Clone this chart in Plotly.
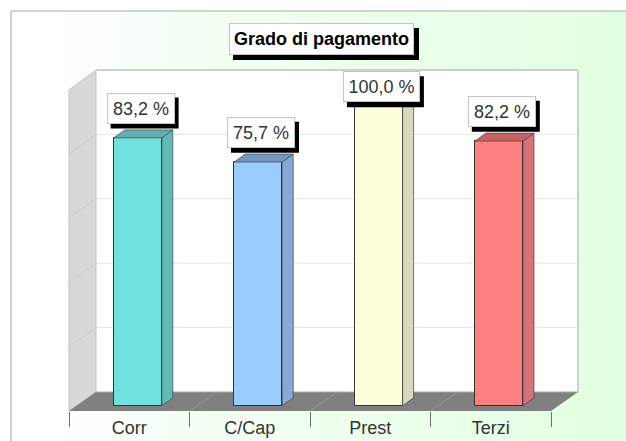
import plotly.graph_objects as go

title = "Grado di pagamento"
categories = ["Corr", "C/Cap", "Prest", "Terzi"]
values = [83.2, 75.7, 100.0, 82.2]
value_labels = ["83,2 %", "75,7 %", "100,0 %", "82,2 %"]
front_colors = ["#70E2DE", "#99CCFF", "#FFFFDC", "#FF8080"]
side_colors = ["#5FBAB8", "#85AAD8", "#D8D8BC", "#D87078"]
top_colors = ["#5FB0AE", "#7098C0", "#C8C8B0", "#C86064"]
grid_values = [20, 40, 60, 80]

W, H = 626, 441
X0_PX, X_STEP = 137.8, 120.4      # pixel of first bar centre, pixels per category
Y0_PX, Y_UNIT = 405.8, 3.22       # pixel of value 0 on bars, pixels per value unit
BAR_W = 48 / X_STEP
DX, DY = 11 / X_STEP, 8 / Y_UNIT  # bar depth in data units
FL, FR, FB, FT = 69, 551, 411, 392  # floor left/right/front/back
WL, WR, WT = 96, 578, 70            # back wall


def px(x):
    return x / W


def py(y):
    return 1 - y / H


def poly(points, **kw):
    path = "M" + " L".join(f"{px(a):.5f},{py(b):.5f}" for a, b in points) + " Z"
    return dict(type="path", xref="paper", yref="paper", path=path, **kw)


def line(x0, y0, x1, y1, color, width=1, layer="below"):
    return dict(type="line", xref="paper", yref="paper", x0=px(x0), y0=py(y0), x1=px(x1), y1=py(y1),
                line=dict(color=color, width=width), layer=layer)


def rect(x0, y0, x1, y1, color, layer="below"):
    return dict(type="rect", xref="paper", yref="paper", x0=px(x0), y0=py(y0), x1=px(x1), y1=py(y1),
                fillcolor=color, line=dict(width=0), layer=layer)


shapes = []
# background gradient, white to pale green
BANDS = 28
start = 62
for i in range(BANDS):
    t = (i + 0.5) / BANDS
    ch = round(252 - (252 - 224) * t)
    x0 = start + (W - start) * i / BANDS
    x1 = start + (W - start) * (i + 1) / BANDS
    shapes.append(rect(x0, 11, x1 + 1, H, f"rgb({ch},255,{ch})"))
shapes.append(line(11, 11, W, 11, "#C4C4C4", 1.5))
shapes.append(line(11, 11, 11, H, "#C4C4C4", 1.5))

# back wall, left wall, floor
shapes.append(rect(WL, WT, WR, FT, "#FFFFFF"))
back_h = FT - WT
for g in grid_values:
    y = FT - g / 100 * back_h
    shapes.append(line(WL, y, WR, y, "#E4E4E4"))
shapes.append(line(WL, WT, WR, WT, "#C0C0C0", 1.5))
shapes.append(line(WR, WT, WR, FT, "#C0C0C0", 1.5))
shapes.append(poly([(FL, FT - back_h + 19 + 1), (WL, WT), (WL, FT), (FL, FB)], fillcolor="#D8D8D8",
                   line=dict(color="#C4C4C4", width=1), layer="below"))
for g in grid_values:
    y = FT - g / 100 * back_h
    shapes.append(line(FL, y + 19, WL, y, "#C8C8C8"))
shapes.append(poly([(FL, FB), (FR, FB), (WR, FT), (WL, FT)], fillcolor="#808080",
                   line=dict(width=0), layer="below"))
shapes.append(line(WL, FT, WR, FT, "#A8A8A8"))
for i in range(1, len(categories)):
    x = FL + i * (FR - FL) / len(categories)
    shapes.append(line(x, FB, x + WL - FL, FT, "#9C9C9C"))

fig = go.Figure()

# 3D faces of the bars, from the same values
for i, v in enumerate(values):
    l, r = i - BAR_W / 2, i + BAR_W / 2
    fig.add_trace(go.Scatter(x=[r, r + DX, r + DX, r, r], y=[0, DY, v + DY, v, 0], mode="lines", fill="toself",
                             fillcolor=side_colors[i], line=dict(color="#444444", width=0.7),
                             hoverinfo="skip", showlegend=False))
    fig.add_trace(go.Scatter(x=[l, r, r + DX, l + DX, l], y=[v, v, v + DY, v + DY, v], mode="lines", fill="toself",
                             fillcolor=top_colors[i], line=dict(color="#444444", width=0.7),
                             hoverinfo="skip", showlegend=False))

fig.add_trace(go.Bar(x=list(range(len(values))), y=values, width=BAR_W,
                     marker=dict(color=front_colors, line=dict(color="#333333", width=1)),
                     showlegend=False, hoverinfo="skip"))

annotations = []
# value labels with drop shadow
for i, (v, lab) in enumerate(zip(values, value_labels)):
    cy_val = min(v + 29.8 / Y_UNIT, 99.1)
    cx_off = 2.8
    cx_px = X0_PX + i * X_STEP + cx_off
    cy_px = Y0_PX - cy_val * Y_UNIT
    bw = 77 if len(lab) > 6 else 68
    bh = 31
    shapes.append(rect(cx_px - bw / 2 + 4, cy_px - bh / 2 + 5, cx_px + bw / 2 + 4, cy_px + bh / 2 + 5,
                       "#000000", layer="above"))
    annotations.append(dict(x=i + cx_off / X_STEP, y=cy_val, xref="x", yref="y", text=lab, showarrow=False,
                            xanchor="center", yanchor="middle", align="center", width=bw - 8, height=bh - 8,
                            bgcolor="#FFFFFF", bordercolor="#C4C4C4", borderwidth=1, borderpad=3,
                            font=dict(family="Liberation Sans", size=18, color="#333333")))

# title box
shapes.append(rect(233, 28, 419, 60, "#000000", layer="above"))
annotations.append(dict(x=px(321.5), y=py(39), xref="paper", yref="paper", text=f"<b>{title}</b>", showarrow=False,
                        xanchor="center", yanchor="middle", align="center", width=177, height=24,
                        bgcolor="#FFFFFF", bordercolor="#C4C4C4", borderwidth=1, borderpad=3,
                        font=dict(family="Liberation Sans", size=18, color="#000000")))

# axis geometry: bars and labels share these scales
section = (FR - FL) / len(categories)
label_pos = [(FL + section * (i + 0.5) - X0_PX) / X_STEP for i in range(len(categories))]
tick_pos = [(FL + section * i - X0_PX) / X_STEP for i in range(len(categories) + 1)]

fig.update_layout(
    width=W, height=H,
    autosize=False,
    margin=dict(l=0, r=0, t=0, b=0, pad=0),
    paper_bgcolor="#FFFFFF", plot_bgcolor="rgba(0,0,0,0)",
    shapes=shapes, annotations=annotations,
    showlegend=False, bargap=0,
    xaxis=dict(
        range=[-X0_PX / X_STEP, (W - X0_PX) / X_STEP], showgrid=False, zeroline=False, showline=False,
        tickmode="array", tickvals=label_pos, ticktext=categories, ticks="outside", ticklen=0.5,
        tickcolor="rgba(0,0,0,0)",
        tickfont=dict(family="Liberation Sans", size=18, color="#333333"), fixedrange=True,
        minor=dict(tickmode="array", tickvals=tick_pos, ticks="outside", ticklen=15, tickcolor="#707070", tickwidth=1,
                   showgrid=False),
    ),
    yaxis=dict(
        domain=[(H - FB) / H, 1],
        range=[(Y0_PX - FB) / Y_UNIT, Y0_PX / Y_UNIT], visible=False, fixedrange=True,
    ),
)

fig.write_html("out.html", config=dict(displayModeBar=False),
               post_script="document.body.style.margin='0';document.documentElement.style.overflow='hidden';")
